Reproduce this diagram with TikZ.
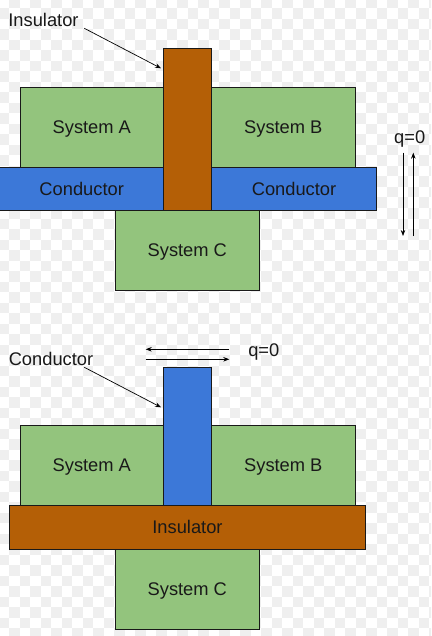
\documentclass[tikz,border=0pt]{standalone}
\usepackage{fontspec}
\setmainfont{Liberation Sans}
\usetikzlibrary{arrows.meta}
\definecolor{sysgreen}{HTML}{93C47D}
\definecolor{condblue}{HTML}{3C78D8}
\definecolor{insbrown}{HTML}{B45F06}
\definecolor{checkgray}{HTML}{EFEFEF}
\begin{document}
\begin{tikzpicture}[x=1pt,y=-1pt,
  txt/.style={font=\fontsize{18.3}{22}\selectfont, text height=13.1pt, text depth=0pt, inner sep=0pt, text=black!90},
  block/.style={draw=black!90, line width=0.8pt, inner sep=0pt, txt},
  sys/.style={block, fill=sysgreen, minimum width=144pt, minimum height=80pt},
  cond/.style={block, fill=condblue},
  insl/.style={block, fill=insbrown},
  pointer/.style={line width=0.7pt, -{Stealth[length=6pt,width=4.5pt]}},
]
\useasboundingbox (0,0) rectangle (431,636);
\fill[white] (0,0) rectangle (431,636);
\begin{scope}
  \clip (0,0) rectangle (431,636);
  \foreach \i in {-1,...,60}{
    \foreach \j in {-1,...,41}{
      \pgfmathtruncatemacro{\chk}{mod(\i+\j+100,2)}
      \ifnum\chk=1
        \fill[checkgray] ({9+10.51*\j},{8.3+10.51*\i}) rectangle ++(10.51,10.51);
      \fi
    }
  }
\end{scope}

% ---------- top panel ----------
\node[sys, minimum width=143pt] (sysA1) at (91.8,127.3) {System A};
\node[sys] (sysB1) at (283.3,127.3) {System B};
\node[cond, minimum width=377.7pt, minimum height=43pt] (cbar1) at (187.85,188.8) {};
\node[txt] (cbarL) at (81.7,189.3) {Conductor};
\node[txt] (cbarR) at (294,189.3) {Conductor};
\node[insl, minimum width=48pt, minimum height=162pt] (ins1) at (187.3,129.3) {};
\node[sys, minimum height=79.7pt] (sysC1) at (187.3,250.2) {System C};

\node[txt] (insLabel) at (43.5,19.7) {Insulator};
\coordinate (insFrom) at (84.3,28.3);
\coordinate (insTo) at (161,68.3);
\draw[pointer] (insFrom) -- (insTo);

\node[txt] (q1) at (409.7,136.7) {q=0};
\coordinate (d1a) at (403,152.7);
\coordinate (d1b) at (403,236);
\coordinate (u1a) at (413.3,236);
\coordinate (u1b) at (413.3,152.7);
\draw[pointer] (d1a) -- (d1b);
\draw[pointer] (u1a) -- (u1b);

% ---------- bottom panel ----------
\node[sys, minimum width=143pt, minimum height=79.7pt] (sysA2) at (91.8,465.2) {System A};
\node[sys, minimum height=79.7pt] (sysB2) at (283.3,465.2) {System B};
\node[cond, minimum width=48pt, minimum height=137.7pt] (cond2) at (187.3,436.2) {};
\node[insl, minimum width=356.4pt, minimum height=44.3pt] (ins2) at (187.5,527.2) {Insulator};
\node[sys, minimum height=79.7pt] (sysC2) at (187.3,589.2) {System C};

\node[txt] (condLabel) at (51,358.5) {Conductor};
\coordinate (condFrom) at (84.3,367.3);
\coordinate (condTo) at (161,407.3);
\draw[pointer] (condFrom) -- (condTo);

\node[txt] (q2) at (263.8,350) {q=0};
\coordinate (l2a) at (229.3,349.3);
\coordinate (l2b) at (145.7,349.3);
\coordinate (r2a) at (145.7,359.3);
\coordinate (r2b) at (229.3,359.3);
\draw[pointer] (l2a) -- (l2b);
\draw[pointer] (r2a) -- (r2b);
\end{tikzpicture}
\end{document}
